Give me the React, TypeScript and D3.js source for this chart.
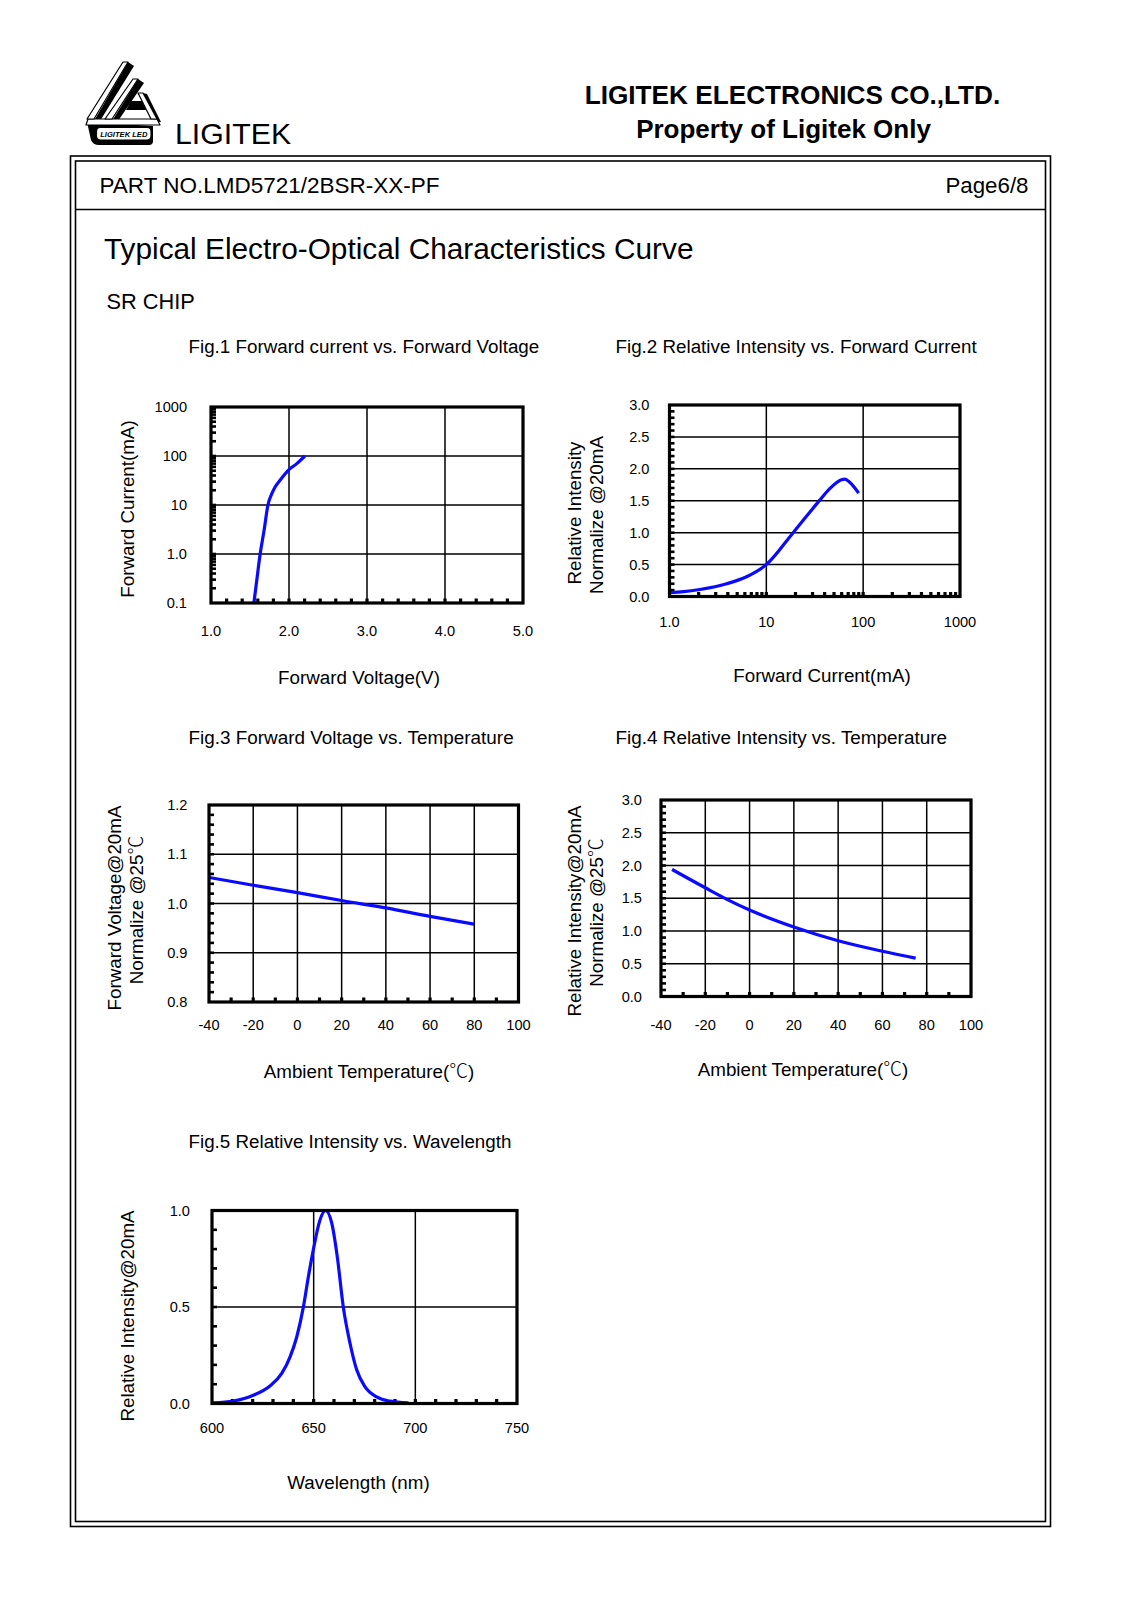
import React from "react";
import * as d3 from "d3";

const FONT = "'Liberation Sans', Arial, Helvetica, sans-serif";
const CJK = "'Noto Sans CJK SC', 'DejaVu Sans', sans-serif";
const BLUE = "#0a0aff";

// ---------- Fig.1 Forward current vs. Forward Voltage ----------
const fig1VoltageV = [1.55, 1.59, 1.63, 1.68, 1.73, 1.78, 1.82, 1.885, 1.99, 2.1, 2.205];
const fig1CurrentMA = [0.1, 0.32, 1.0, 3.0, 10, 17, 23, 32, 51, 70, 100];
const fig1XTicks = [1, 2, 3, 4, 5];
const fig1XTickLabels = ["1.0", "2.0", "3.0", "4.0", "5.0"];
const fig1YTicks = [0.1, 1, 10, 100, 1000];
const fig1YTickLabels = ["0.1", "1.0", "10", "100", "1000"];

// ---------- Fig.2 Relative Intensity vs. Forward Current ----------
const fig2CurrentMA = [1.0, 1.4, 2.06, 3.89, 6.25, 10, 18.9, 28.1, 35.6, 45.2, 59.6, 65, 72.6, 89.9];
const fig2Intensity = [0.06, 0.075, 0.11, 0.2, 0.31, 0.5, 1.0, 1.32, 1.51, 1.69, 1.83, 1.84, 1.79, 1.62];
const fig2XTicks = [1, 10, 100, 1000];
const fig2XTickLabels = ["1.0", "10", "100", "1000"];
const fig2YTicks = [0, 0.5, 1, 1.5, 2, 2.5, 3];
const fig2YTickLabels = ["0.0", "0.5", "1.0", "1.5", "2.0", "2.5", "3.0"];

// ---------- Fig.3 Forward Voltage vs. Temperature ----------
const fig3TempC = [-40, -20, 0, 20, 40, 60, 80];
const fig3Voltage = [1.053, 1.037, 1.022, 1.006, 0.991, 0.974, 0.958];
const fig3XTicks = [-40, -20, 0, 20, 40, 60, 80, 100];
const fig3XTickLabels = ["-40", "-20", "0", "20", "40", "60", "80", "100"];
const fig3YTicks = [0.8, 0.9, 1.0, 1.1, 1.2];
const fig3YTickLabels = ["0.8", "0.9", "1.0", "1.1", "1.2"];

// ---------- Fig.4 Relative Intensity vs. Temperature ----------
const fig4TempC = [-35, -20, -10, 0, 20, 40, 60, 75];
const fig4Intensity = [1.94, 1.66, 1.48, 1.32, 1.06, 0.85, 0.69, 0.585];
const fig4XTicks = [-40, -20, 0, 20, 40, 60, 80, 100];
const fig4XTickLabels = ["-40", "-20", "0", "20", "40", "60", "80", "100"];
const fig4YTicks = [0, 0.5, 1, 1.5, 2, 2.5, 3];
const fig4YTickLabels = ["0.0", "0.5", "1.0", "1.5", "2.0", "2.5", "3.0"];

// ---------- Fig.5 Relative Intensity vs. Wavelength ----------
const fig5WavelengthNm = [600.6, 610.5, 620.3, 628.5, 634.3, 638.4, 641.7, 644.9, 647.4, 649.8, 653.1, 655.9, 658.9, 661.6, 664.6, 667.9, 671.2, 675.3, 681, 687.6, 696.6];
const fig5Intensity = [0.003, 0.013, 0.043, 0.091, 0.156, 0.242, 0.346, 0.498, 0.657, 0.795, 0.951, 1.0, 0.934, 0.761, 0.498, 0.311, 0.173, 0.086, 0.034, 0.012, 0.003];
const fig5XTicks = [600, 650, 700, 750];
const fig5XTickLabels = ["600", "650", "700", "750"];
const fig5YTicks = [0, 0.5, 1];
const fig5YTickLabels = ["0.0", "0.5", "1.0"];

const logMinor = (from: number, to: number) => {
  const out: number[] = [];
  for (let d = from; d < to; d *= 10) for (let m = 1; m <= 9; m++) out.push(+(d * m).toPrecision(6));
  return out.filter((v) => v > from && v < to);
};
const linMinor = (a: number, b: number, step: number) =>
  d3.range(Math.round((b - a) / step) + 1).map((i) => +(a + i * step).toFixed(6)).filter((v) => v > a && v < b);

type PanelProps = {
  xs: any;
  ys: any;
  gridX: number[];
  gridY: number[];
  minorX: number[];
  minorY: number[];
  xTicks: number[];
  xTickLabels: string[];
  xLabelBaseline: number;
  yTicks: number[];
  yTickLabels: string[];
  yLabelRight: number;
  xData: number[];
  yData: number[];
};

function Panel(p: PanelProps) {
  const [x0, x1] = p.xs.range();
  const [yb, yt] = p.ys.range();
  const pts: [number, number][] = p.xData.map((v, i) => [p.xs(v), p.ys(p.yData[i])]);
  const line = d3.line<[number, number]>().x((d) => d[0]).y((d) => d[1]).curve(d3.curveMonotoneX);
  return (
    <g>
      <rect x={x0} y={yt} width={x1 - x0} height={yb - yt} fill="#fff" />
      {p.gridX.map((v, i) => (
        <line key={"gx" + i} x1={p.xs(v)} x2={p.xs(v)} y1={yt} y2={yb} stroke="#000" strokeWidth={1.5} />
      ))}
      {p.gridY.map((v, i) => (
        <line key={"gy" + i} x1={x0} x2={x1} y1={p.ys(v)} y2={p.ys(v)} stroke="#000" strokeWidth={1.5} />
      ))}
      {p.minorY.map((v, i) => (
        <rect key={"my" + i} x={x0} y={p.ys(v) - 1.3} width={5} height={2.6} fill="#000" />
      ))}
      {p.minorX.map((v, i) => (
        <rect key={"mx" + i} x={p.xs(v) - 1.6} y={yb - 4.5} width={3.2} height={4.5} fill="#000" />
      ))}
      <path d={line(pts) || ""} fill="none" stroke={BLUE} strokeWidth={3.2} strokeLinejoin="round" />
      <rect x={x0} y={yt} width={x1 - x0} height={yb - yt} fill="none" stroke="#000" strokeWidth={3.2} />
      {p.xTicks.map((v, i) => (
        <text key={"xl" + i} x={p.xs(v)} y={p.xLabelBaseline} textAnchor="middle" fontSize={14.6} fontFamily={FONT}>
          {p.xTickLabels[i]}
        </text>
      ))}
      {p.yTicks.map((v, i) => (
        <text key={"yl" + i} x={p.yLabelRight} y={p.ys(v) + 5} textAnchor="end" fontSize={14.6} fontFamily={FONT}>
          {p.yTickLabels[i]}
        </text>
      ))}
    </g>
  );
}

function VLabel({ x, y, children, size = 18.8 }: { x: number; y: number; children: any; size?: number }) {
  return (
    <text transform={`translate(${x},${y}) rotate(-90)`} textAnchor="middle" fontSize={size} fontFamily={FONT}>
      {children}
    </text>
  );
}

const Deg = () => (
  <tspan fontFamily={CJK} fontWeight={300}>
    ℃
  </tspan>
);

function Logo() {
  return (
    <g strokeLinejoin="round">
      {/* base plinth shadow */}
      <path d="M87 122 L91 140 Q93 145 99 145 L149 145 Q153 145 153 141 L153 126 Z" fill="#000" />
      {/* band shadows */}
      <polygon points="128,62 134,66 100,121 94,121" fill="#000" />
      <polygon points="138,79 144,83 118,121 112,121" fill="#000" />
      <polygon points="143,93 147,94 161,122 157,122" fill="#000" />
      {/* bottom horizontal band */}
      <polygon points="88,119 157,119 160,125 86,125" fill="#fff" stroke="#000" strokeWidth={1.2} />
      {/* outer band */}
      <polygon points="123,62 128,62 94,119 87,119" fill="#fff" stroke="#000" strokeWidth={1.2} />
      {/* inner band */}
      <polygon points="133,79 138,79 112,119 105,119" fill="#fff" stroke="#000" strokeWidth={1.2} />
      {/* right diagonal */}
      <polygon points="138,93 143,93 157,119 151,119" fill="#fff" stroke="#000" strokeWidth={1.2} />
      {/* G bar */}
      <polygon points="126,110 146,110 142,101 131,101" fill="#000" />
      {/* label */}
      <rect x={96.5} y={127.5} width={54.5} height={12.5} rx={4} fill="#fff" stroke="#000" strokeWidth={1.2} />
      <text x={123.8} y={137} textAnchor="middle" fontSize={7.6} fontWeight="bold" fontStyle="italic" fontFamily={FONT}>
        LIGITEK LED
      </text>
    </g>
  );
}

export default function App() {
  const f1x = d3.scaleLinear().domain([1, 5]).range([211, 523]);
  const f1y = d3.scaleLog().domain([0.1, 1000]).range([603, 407]);
  const f2x = d3.scaleLog().domain([1, 1000]).range([669.5, 960]);
  const f2y = d3.scaleLinear().domain([0, 3]).range([596.5, 405]);
  const f3x = d3.scaleLinear().domain([-40, 100]).range([209, 518.5]);
  const f3y = d3.scaleLinear().domain([0.8, 1.2]).range([1002, 805]);
  const f4x = d3.scaleLinear().domain([-40, 100]).range([661, 971]);
  const f4y = d3.scaleLinear().domain([0, 3]).range([996.5, 800]);
  const f5x = d3.scaleLinear().domain([600, 750]).range([212, 517]);
  const f5y = d3.scaleLinear().domain([0, 1]).range([1403.5, 1210.5]);

  return (
    <svg
      width={1131}
      height={1600}
      viewBox="0 0 1131 1600"
      style={{ position: "absolute", left: 0, top: 0, background: "#fff" }}
      fontFamily={FONT}
    >
      <rect x={0} y={0} width={1131} height={1600} fill="#fff" />

      {/* Header */}
      <Logo />
      <text x={175} y={143.5} fontSize={30.3} fontFamily={FONT}>
        LIGITEK
      </text>
      <text x={792.5} y={104} textAnchor="middle" fontSize={26.2} fontWeight="bold" fontFamily={FONT}>
        LIGITEK ELECTRONICS CO.,LTD.
      </text>
      <text x={783.5} y={137.5} textAnchor="middle" fontSize={26} fontWeight="bold" fontFamily={FONT}>
        Property of Ligitek Only
      </text>

      {/* Frame */}
      <rect x={70.5} y={156} width={980} height={1370.5} fill="none" stroke="#000" strokeWidth={1.6} />
      <rect x={75.5} y={161} width={970} height={1360.5} fill="none" stroke="#000" strokeWidth={1.6} />
      <line x1={75.5} x2={1045.5} y1={209.5} y2={209.5} stroke="#000" strokeWidth={1.5} />

      <text x={99.5} y={192.5} fontSize={22.5} fontFamily={FONT}>
        PART NO.LMD5721/2BSR-XX-PF
      </text>
      <text x={1028.5} y={192.5} textAnchor="end" fontSize={22.3} fontFamily={FONT}>
        Page6/8
      </text>

      <text x={104} y={259} fontSize={29.8} fontFamily={FONT}>
        Typical Electro-Optical Characteristics Curve
      </text>
      <text x={106.5} y={309} fontSize={21.8} fontFamily={FONT}>
        SR CHIP
      </text>

      {/* Fig titles */}
      <text x={188.5} y={352.5} fontSize={18.8} fontFamily={FONT}>
        Fig.1 Forward current vs. Forward Voltage
      </text>
      <text x={615.5} y={352.5} fontSize={18.8} fontFamily={FONT}>
        Fig.2 Relative Intensity vs. Forward Current
      </text>
      <text x={188.5} y={743.5} fontSize={18.9} fontFamily={FONT}>
        Fig.3 Forward Voltage vs. Temperature
      </text>
      <text x={615.5} y={743.5} fontSize={18.9} fontFamily={FONT}>
        Fig.4 Relative Intensity vs. Temperature
      </text>
      <text x={188.5} y={1147.5} fontSize={18.8} fontFamily={FONT}>
        Fig.5 Relative Intensity vs. Wavelength
      </text>

      {/* Fig 1 */}
      <Panel
        xs={f1x}
        ys={f1y}
        gridX={[2, 3, 4]}
        gridY={[1, 10, 100]}
        minorX={linMinor(1, 5, 0.2)}
        minorY={logMinor(0.1, 1000)}
        xTicks={fig1XTicks}
        xTickLabels={fig1XTickLabels}
        xLabelBaseline={636}
        yTicks={fig1YTicks}
        yTickLabels={fig1YTickLabels}
        yLabelRight={187}
        xData={fig1VoltageV}
        yData={fig1CurrentMA}
      />
      <VLabel x={133.5} y={509}>Forward Current(mA)</VLabel>
      <text x={359} y={684} textAnchor="middle" fontSize={18.8} fontFamily={FONT}>
        Forward Voltage(V)
      </text>

      {/* Fig 2 */}
      <Panel
        xs={f2x}
        ys={f2y}
        gridX={[10, 100]}
        gridY={[0.5, 1, 1.5, 2, 2.5]}
        minorX={logMinor(1, 1000)}
        minorY={linMinor(0, 3, 0.1)}
        xTicks={fig2XTicks}
        xTickLabels={fig2XTickLabels}
        xLabelBaseline={626.5}
        yTicks={fig2YTicks}
        yTickLabels={fig2YTickLabels}
        yLabelRight={649.5}
        xData={fig2CurrentMA}
        yData={fig2Intensity}
      />
      <VLabel x={580.5} y={513}>Relative Intensity</VLabel>
      <VLabel x={602.5} y={515}>Normalize @20mA</VLabel>
      <text x={822} y={682} textAnchor="middle" fontSize={18.8} fontFamily={FONT}>
        Forward Current(mA)
      </text>

      {/* Fig 3 */}
      <Panel
        xs={f3x}
        ys={f3y}
        gridX={[-20, 0, 20, 40, 60, 80]}
        gridY={[0.9, 1.0, 1.1]}
        minorX={linMinor(-40, 100, 10)}
        minorY={linMinor(0.8, 1.2, 0.02)}
        xTicks={fig3XTicks}
        xTickLabels={fig3XTickLabels}
        xLabelBaseline={1030}
        yTicks={fig3YTicks}
        yTickLabels={fig3YTickLabels}
        yLabelRight={187.5}
        xData={fig3TempC}
        yData={fig3Voltage}
      />
      <VLabel x={120.5} y={908}>Forward Voltage@20mA</VLabel>
      <VLabel x={143} y={910}>
        Normalize @25
        <Deg />
      </VLabel>
      <text x={369} y={1078} textAnchor="middle" fontSize={18.8} fontFamily={FONT}>
        Ambient Temperature(
        <Deg />)
      </text>

      {/* Fig 4 */}
      <Panel
        xs={f4x}
        ys={f4y}
        gridX={[-20, 0, 20, 40, 60, 80]}
        gridY={[0.5, 1, 1.5, 2, 2.5]}
        minorX={linMinor(-40, 100, 10)}
        minorY={linMinor(0, 3, 0.1)}
        xTicks={fig4XTicks}
        xTickLabels={fig4XTickLabels}
        xLabelBaseline={1030}
        yTicks={fig4YTicks}
        yTickLabels={fig4YTickLabels}
        yLabelRight={642}
        xData={fig4TempC}
        yData={fig4Intensity}
      />
      <VLabel x={580.5} y={911}>Relative Intensity@20mA</VLabel>
      <VLabel x={603} y={912.5}>
        Normalize @25
        <Deg />
      </VLabel>
      <text x={803} y={1076} textAnchor="middle" fontSize={18.8} fontFamily={FONT}>
        Ambient Temperature(
        <Deg />)
      </text>

      {/* Fig 5 */}
      <Panel
        xs={f5x}
        ys={f5y}
        gridX={[650, 700]}
        gridY={[0.5]}
        minorX={linMinor(600, 750, 10)}
        minorY={linMinor(0, 1, 0.1)}
        xTicks={fig5XTicks}
        xTickLabels={fig5XTickLabels}
        xLabelBaseline={1433}
        yTicks={fig5YTicks}
        yTickLabels={fig5YTickLabels}
        yLabelRight={190}
        xData={fig5WavelengthNm}
        yData={fig5Intensity}
      />
      <VLabel x={133.5} y={1316}>Relative Intensity@20mA</VLabel>
      <text x={358.5} y={1489} textAnchor="middle" fontSize={18.8} fontFamily={FONT}>
        Wavelength (nm)
      </text>
    </svg>
  );
}
